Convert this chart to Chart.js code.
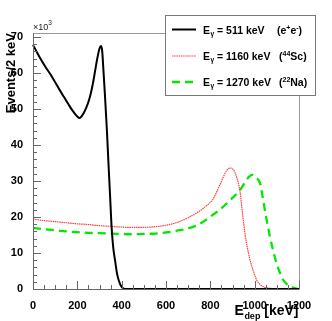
<!DOCTYPE html>
<html><head><meta charset="utf-8">
<script src="https://cdn.jsdelivr.net/npm/chart.js@4/dist/chart.umd.min.js"></script>
<style>html,body{margin:0;padding:0;background:#fff;}canvas{display:block;}</style>
</head><body>
<canvas id="c" width="332" height="321"></canvas>
<script>
// ---- data (counts in units of 10^3 per 2 keV) ----
const blackE = [0,20,40,60,80,100,120,140,160,180,200,210,220,240,257,270,280,290,300,307,312,318,325,333,340,348,355,362,370,380,392,400,407,420,1200];
const blackCounts = [67.8,65.5,63.3,61.3,59.5,57.4,55.3,53.3,51.3,49.4,47.9,47.5,48.0,50.3,53.4,57.0,60.5,64.0,66.8,67.5,66.2,60.5,53.4,44.5,35.5,25.5,16.8,11.5,8.0,4.0,1.5,0.6,0.2,0,0];
const redE = [0,50,100,150,200,250,300,350,400,450,500,550,600,650,700,740,780,810,840,860,875,890,900,910,920,934,945,956,967,979,994,1009,1024,1039,1060,1083,1110,1200];
const redCounts = [19.4,19.0,18.7,18.4,18.1,17.9,17.6,17.4,17.2,17.1,17.1,17.3,17.7,18.5,19.8,21.2,23.0,24.8,28.5,31.3,33.0,33.6,33.4,32.5,30.8,27.0,21.0,15.5,11.5,8.1,5.0,2.5,1.3,0.6,0.25,0.1,0,0];
const greenE = [0,50,100,150,200,250,300,350,400,450,500,550,600,650,700,750,800,850,890,934,960,975,990,1005,1024,1035,1046,1058,1069,1084,1099,1114,1129,1148,1167,1185,1200];
const greenCounts = [17.0,16.6,16.3,16.0,15.8,15.6,15.5,15.4,15.3,15.2,15.3,15.4,15.7,16.2,16.8,18.0,20.1,22.4,24.7,27.5,30.0,31.2,31.7,31.0,29.4,26.0,21.9,18.0,14.5,10.5,7.1,4.5,2.5,1.2,0.6,0.2,0];
const xTickLabels = [0,200,400,600,800,1000,1200];
const yTickLabels = [0,10,20,30,40,50,60,70];
const legendMain = ['511 keV','1160 keV','1270 keV'];
const legendSource = [['(e','+','e','-',')'],['(','44','Sc)'],['(','22','Na)']];

const FONT = '"Liberation Sans", Arial, sans-serif';
const pts = (xs, ys) => xs.map((x,i)=>({x:x, y:ys[i]}));

const decor = {
  id:'decor',
  afterDraw(chart){
    const ctx = chart.ctx, a = chart.chartArea;
    const xs = chart.scales.x, ys = chart.scales.y;
    ctx.save();
    // frame
    ctx.lineWidth = 1;
    ctx.strokeStyle = '#999';
    ctx.beginPath();
    ctx.moveTo(a.left, a.top+0.5); ctx.lineTo(a.right+0.5, a.top+0.5); ctx.lineTo(a.right+0.5, a.bottom);
    ctx.stroke();
    ctx.strokeStyle = '#666';
    ctx.beginPath();
    ctx.moveTo(a.left+0.5, a.top); ctx.lineTo(a.left+0.5, a.bottom+0.5); ctx.lineTo(a.right+0.5, a.bottom+0.5);
    ctx.stroke();
    // ticks
    ctx.beginPath();
    for (let v=0; v<=70; v+=2){
      const y = Math.round(ys.getPixelForValue(v))+0.5;
      const len = (v%10===0)?8:4;
      ctx.moveTo(a.left, y); ctx.lineTo(a.left+len, y);
    }
    for (let v=0; v<=1200; v+=50){
      const x = Math.round(xs.getPixelForValue(v))+0.5;
      const len = (v%200===0)?8:4;
      ctx.moveTo(x, a.bottom); ctx.lineTo(x, a.bottom-len);
    }
    ctx.stroke();
    // x10^3
    ctx.fillStyle = '#222';
    ctx.textBaseline = 'alphabetic';
    ctx.font = '9px '+FONT;
    ctx.fillText('\u00d710', a.left, 30);
    const w10 = ctx.measureText('\u00d710').width;
    ctx.font = '6.5px '+FONT;
    ctx.fillText('3', a.left+w10, 25);
    // y title
    ctx.fillStyle = '#000';
    ctx.save();
    ctx.translate(15, a.top);
    ctx.rotate(-Math.PI/2);
    ctx.font = 'bold 13px '+FONT;
    ctx.textAlign = 'right';
    ctx.fillText('Events/2 keV', 0, 0);
    ctx.restore();
    // x title
    ctx.font = 'bold 14px '+FONT;
    const wE = ctx.measureText('E').width;
    const wK = ctx.measureText(' [keV]').width;
    ctx.font = 'bold 9px '+FONT;
    const wD = ctx.measureText('dep').width;
    let xt = 298 - (wE + wD + wK);
    ctx.font = 'bold 14px '+FONT;
    ctx.fillText('E', xt, 315);
    ctx.font = 'bold 9px '+FONT;
    ctx.fillText('dep', xt+wE+0.5, 319);
    ctx.font = 'bold 14px '+FONT;
    ctx.fillText(' [keV]', xt+wE+wD+0.5, 315);
    // legend box
    ctx.fillStyle = '#fff';
    ctx.fillRect(165.5, 15.5, 150, 80);
    ctx.strokeStyle = '#777';
    ctx.lineWidth = 1;
    ctx.strokeRect(165.5, 15.5, 150, 80);
    const rowsY = [29.5, 56, 82];
    const ds = chart.data.datasets;
    for (let i=0;i<3;i++){
      const y = rowsY[i];
      ctx.save();
      ctx.strokeStyle = ds[i].borderColor;
      ctx.lineWidth = ds[i].borderWidth;
      ctx.setLineDash(ds[i].borderDash || []);
      ctx.beginPath(); ctx.moveTo(172, y); ctx.lineTo(196, y); ctx.stroke();
      ctx.restore();
      ctx.fillStyle = '#000';
      let x = 203;
      ctx.font = 'bold 10.5px '+FONT;
      ctx.fillText('E', x, y+4); x += ctx.measureText('E').width + 0.5;
      ctx.font = 'bold 6.5px '+FONT;
      ctx.fillText('\u03b3', x, y+6); x += ctx.measureText('\u03b3').width;
      ctx.font = 'bold 10.5px '+FONT;
      ctx.fillText(' = '+legendMain[i], x, y+4);
      // source
      x = (i===0)?277:279;
      const parts = legendSource[i];
      parts.forEach((p, k)=>{
        const sup = (i===0)?(k===1||k===3):(k===1);
        ctx.font = sup ? 'bold 7px '+FONT : 'bold 10.5px '+FONT;
        ctx.fillText(p, x, sup ? y : y+4);
        x += ctx.measureText(p).width;
      });
    }
    ctx.restore();
  }
};

new Chart(document.getElementById('c'), {
  type:'line',
  data:{
    datasets:[
      {label:'511', data:pts(blackE, blackCounts), borderColor:'#000', borderWidth:2, pointRadius:0, cubicInterpolationMode:'monotone', clip:false},
      {label:'1160', data:pts(redE, redCounts), borderColor:'rgba(255,40,40,0.9)', borderWidth:1.2, borderDash:[1.5,0.7], pointRadius:0, cubicInterpolationMode:'monotone', clip:false},
      {label:'1270', data:pts(greenE, greenCounts), borderColor:'#00e800', borderWidth:2.3, borderDash:[8,5], pointRadius:0, cubicInterpolationMode:'monotone', clip:false}
    ]
  },
  options:{
    responsive:false, animation:false,
    layout:{padding:{left:0, top:33, right:33, bottom:0}},
    plugins:{legend:{display:false}, tooltip:{enabled:false}},
    scales:{
      x:{type:'linear', min:0, max:1200,
         afterFit(s){ s.height = 32; },
         grid:{display:false}, border:{display:false},
         ticks:{stepSize:200, includeBounds:false, maxRotation:0, padding:2, color:'#000',
                font:{family:FONT, size:11, weight:'bold'},
                callback:(v)=> xTickLabels.includes(v) ? String(v) : ''}},
      y:{type:'linear', min:0, max:71.1,
         afterFit(s){ s.width = 33; },
         grid:{display:false}, border:{display:false},
         ticks:{stepSize:10, includeBounds:false, padding:2, color:'#000',
                font:{family:FONT, size:11, weight:'bold'},
                callback:(v)=> yTickLabels.includes(v) ? String(v) : ''}}
    }
  },
  plugins:[decor]
});
</script>
</body></html>
